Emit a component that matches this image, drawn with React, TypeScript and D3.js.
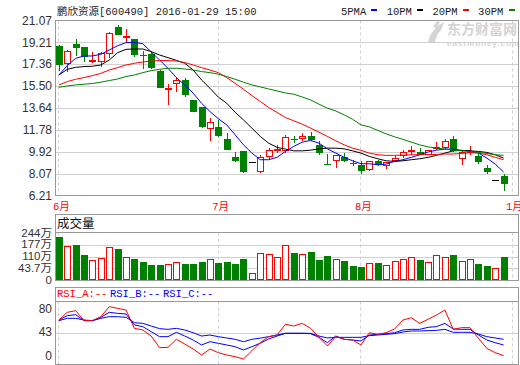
import React from 'react';
import * as d3 from 'd3';

// ---- chart data ----
const title = '鹏欣资源[600490] 2016-01-29 15:00';
const maNames = ['5PMA', '10PM', '20PM', '30PM'];
const monthLabels = ['6月', '7月', '8月', '1月'];
const monthIndex = [0, 19, 36, 54];
const priceTicks = [21.07, 19.21, 17.36, 15.5, 13.64, 11.78, 9.92, 8.07, 6.21];
const volTicks = ['244万', '177万', '110万', '43.7万', '0'];
const rsiTicks = ['80', '43', '0'];
const rsiNames = ['RSI_A:--', 'RSI_B:--', 'RSI_C:--'];

const open = [18.9, 17.35, 19.07, 18.79, 17.64, 17.58, 18.26, 20.48, 19.55, 19.47, 18.16, 18.22, 16.79, 15.3, 15.73, 16.0, 14.34, 13.72, 11.84, 12.09,
  11.02, 9.5, 9.98, 9.06, 8.21, 9.48, 10.03, 10.03, 11.07, 11.0, 11.25, 10.54, 8.93, 9.14, 9.48, 9.02, 8.85, 8.43, 9.19, 8.72,
  9.14, 9.56, 9.93, 9.93, 9.7, 10.33, 10.26, 11.05, 9.33, 9.84, 9.61, 8.57, 7.5, 7.87];
const high = [18.95, 18.55, 19.47, 18.82, 18.37, 18.43, 20.05, 20.67, 20.31, 19.5, 18.48, 18.43, 16.87, 15.67, 16.32, 16.17, 14.36, 13.74, 12.8, 12.65,
  11.53, 9.9, 10.0, 9.06, 9.7, 10.26, 10.54, 11.33, 11.3, 11.53, 11.61, 10.83, 9.76, 9.65, 9.81, 9.28, 9.14, 9.14, 9.28, 9.1,
  9.61, 10.12, 10.41, 10.26, 10.09, 10.77, 11.05, 11.25, 10.03, 10.41, 9.84, 8.85, 7.5, 8.09];
const low = [16.8, 16.68, 18.06, 17.58, 17.44, 17.16, 17.92, 19.8, 19.13, 17.95, 16.96, 16.96, 15.39, 13.87, 15.05, 14.57, 13.34, 12.0, 10.83, 11.22,
  10.1, 9.08, 8.15, 9.06, 8.19, 9.28, 9.84, 9.84, 10.68, 10.87, 10.89, 9.7, 8.89, 8.57, 9.08, 8.77, 8.09, 8.35, 8.72, 8.52,
  9.12, 9.42, 9.7, 9.65, 9.65, 10.12, 10.22, 9.96, 8.85, 9.65, 8.91, 8.09, 7.5, 6.66];
const close = [17.3, 18.51, 18.73, 17.95, 17.7, 18.28, 20.03, 19.83, 19.72, 18.14, 18.12, 17.02, 15.39, 15.36, 16.0, 14.76, 13.36, 12.01, 12.43, 11.25,
  10.12, 9.19, 8.24, 9.06, 9.48, 10.07, 10.2, 11.19, 11.03, 11.25, 10.91, 9.87, 8.91, 9.65, 9.19, 8.98, 8.35, 9.14, 8.85, 9.08,
  9.42, 9.9, 10.07, 9.7, 10.07, 10.37, 10.83, 9.98, 9.9, 10.03, 9.08, 8.24, 7.5, 7.22];

const ma5 = [16.45, 17.25, 17.86, 18.06, 18.06, 18.2, 18.56, 18.93, 19.19, 19.21, 19.1, 18.4, 17.72, 17.02, 16.23, 15.61, 14.91, 14.06, 13.36, 12.75,
  12.23, 11.39, 10.54, 9.84, 9.28, 9.28, 9.48, 9.98, 10.41, 10.77, 10.91, 10.68, 10.2, 9.84, 9.48, 9.19, 8.94, 8.94, 8.85, 8.91,
  9.14, 9.28, 9.48, 9.7, 9.93, 10.09, 10.18, 10.18, 10.07, 10.03, 9.84, 9.42, 8.91, 8.24];
const ma10 = [16.45, 16.93, 17.1, 17.16, 17.19, 17.3, 17.72, 18.34, 18.62, 18.65, 18.65, 18.43, 18.14, 17.92, 17.69, 17.44, 16.87, 16.03, 15.33, 14.58,
  14.06, 13.3, 12.65, 11.95, 11.25, 10.68, 10.32, 10.18, 10.03, 10.03, 10.09, 10.2, 10.26, 10.26, 10.2, 10.03, 9.84, 9.56, 9.36, 9.19,
  9.14, 9.19, 9.28, 9.36, 9.48, 9.65, 9.84, 10.03, 10.07, 10.03, 9.98, 9.9, 9.7, 9.42];
const ma20 = [15.61, 15.89, 16.09, 16.23, 16.4, 16.59, 16.87, 17.07, 17.3, 17.44, 17.55, 17.63, 17.67, 17.67, 17.63, 17.5, 17.3, 17.07, 16.87, 16.65,
  16.23, 15.75, 15.24, 14.71, 14.21, 13.7, 13.28, 12.85, 12.57, 12.29, 11.95, 11.61, 11.25, 10.88, 10.54, 10.26, 10.07, 9.84, 9.7, 9.65,
  9.65, 9.67, 9.7, 9.7, 9.7, 9.73, 9.76, 9.76, 9.81, 9.87, 9.84, 9.7, 9.48, 9.28];
const ma30 = [15.41, 15.52, 15.61, 15.67, 15.73, 15.84, 15.98, 16.11, 16.32, 16.45, 16.65, 16.82, 16.93, 17.02, 17.02, 16.96, 16.87, 16.74, 16.65, 16.52,
  16.32, 16.09, 15.84, 15.61, 15.44, 15.27, 15.1, 14.93, 14.82, 14.59, 14.34, 13.98, 13.64, 13.41, 13.07, 12.71, 12.23, 12.06, 11.76, 11.47,
  11.22, 11.0, 10.77, 10.54, 10.37, 10.26, 10.18, 10.09, 10.03, 9.98, 9.9, 9.81, 9.7, 9.65];

// volume, 万
const volume = [227, 178, 185, 133, 105, 117, 173, 164, 121, 112, 96, 81, 81, 84, 95, 86, 86, 96, 110, 91,
  96, 86, 112, 37, 142, 137, 121, 183, 143, 137, 148, 107, 128, 110, 102, 76, 70, 90, 91, 79,
  100, 110, 121, 107, 95, 131, 121, 133, 100, 110, 86, 76, 64, 122];

const rsiA = [69.8, 82, 84.6, 68.8, 68.8, 75.1, 91, 88.3, 85.7, 56.6, 54, 44.4, 25.9, 26.4, 39.2, 31.7, 23.8, 14.3, 23.8, 18,
  14.3, 11.6, 7.9, 21.2, 34, 43.4, 46, 63, 60.3, 64.5, 56.6, 42.3, 28.6, 43.4, 39.2, 38.1, 30.2, 49.7, 47.1, 49.7,
  55.5, 69.8, 73.5, 64.5, 70.9, 77.8, 85.7, 55, 57.7, 57.7, 40.7, 24.9, 18, 13.2];
const rsiB = [69.8, 76.7, 78.3, 68.8, 68.8, 74.1, 82, 80.4, 79.4, 61.9, 59.3, 51.3, 43.4, 43.4, 50.3, 44.4, 38.1, 30.2, 35.4, 32.8,
  30.2, 27.5, 22.2, 27.5, 33, 39.7, 44.4, 48.7, 48.7, 48.7, 48.1, 42.3, 33.8, 44.4, 39.2, 38.1, 36.5, 46, 47.1, 48.1,
  49.7, 54, 55, 55, 58.2, 59.3, 64.5, 55.5, 55, 55, 46, 38.1, 33.8, 30.2];
const rsiC = [68.8, 72.5, 72.5, 69.8, 68.8, 72.5, 75.1, 75.1, 74.1, 65.6, 64.5, 60.3, 56.1, 55, 56.6, 54, 49.7, 44.4, 46, 43.4,
  41.3, 39.2, 35.4, 39.2, 41, 43.4, 46, 48.7, 48.7, 48.7, 48.7, 44.4, 41.3, 42.3, 42.3, 42.3, 42.3, 45, 46, 47.1,
  48.1, 50.8, 52.4, 52.4, 52.9, 53.4, 55, 50.3, 50.3, 50.3, 47.6, 43.4, 41.3, 39.2];

// ---- styles ----
const UP = '#ff0000';
const DOWN = '#008000';
const maColors = ['#0000ff', '#000000', '#ff0000', '#008000'];
const rsiColors = ['#ff0000', '#0000ff', '#0000ff'];
const BORDER = '#999999';
const GRID = '#d0d0d0';
const mono = "'Liberation Mono', 'Noto Sans CJK SC', monospace";
const sans = "'Liberation Sans', Arial, 'Noto Sans CJK SC', sans-serif";

const L = 55.5;
const R = 518.5;

export default function App() {
  const x = d3.scaleLinear().domain([0, 54]).range([58.9, 512]);
  const yP = d3.scaleLinear().domain([6.21, 21.07]).range([196, 20.4]);
  const yV = d3.scaleLinear().domain([0, 244]).range([280.5, 233.7]);
  const yR = d3.scaleLinear().domain([0, 100]).range([364, 301]);
  const volPos = d3.scalePoint<string>().domain(volTicks).range([233.7, 280.5]);
  const rsiPos = d3.scalePoint<string>().domain(rsiTicks).range([309.5, 356.5]);

  const priceLine = d3.line<number>().x((d, i) => x(i)).y(d => yP(d));
  const rsiLine = d3.line<number>().x((d, i) => x(i)).y(d => yR(d));
  const px = (v: number) => Math.floor(v) + 0.5;

  const monthLines = (y1: number, y2: number) =>
    monthIndex.map((m, i) => (
      <line key={'m' + i} x1={px(x(m))} x2={px(x(m))} y1={y1} y2={y2}
        stroke={GRID} strokeDasharray="3,3" />
    ));

  return (
    <svg width={520} height={365} style={{ position: 'absolute', left: 0, top: 0, background: '#fff' }}>
      <rect x={0} y={0} width={520} height={365} fill="#fff" />

      {/* watermark */}
      <g fill="#d4d4d4">
        <path d="M428,42 C430,33 436,26 444,22 L441,30 C438,33 436,37 435,42 Z M433,27 L437,21 L440,22 L436,28 Z" />
        <text x={447} y={34} fontFamily="'Noto Sans CJK SC', sans-serif" fontWeight="bold" fontSize={14}>东方财富网</text>
        <text x={447} y={45.5} fontFamily={sans} fontWeight="bold" fontSize={8} letterSpacing={1}>eastmoney.com</text>
      </g>

      {/* header */}
      <text x={57} y={14.5} fontFamily={mono} fontSize={10.5} fill="#222">{title}</text>
      {maNames.map((n, i) => (
        <g key={n}>
          <text x={341 + i * 45.7} y={14.5} fontFamily={mono} fontSize={10.5} fill="#222">{n}</text>
          <rect x={371 + i * 46} y={9} width={6} height={2} fill={maColors[i]} />
        </g>
      ))}

      {/* price panel grid */}
      {priceTicks.map((t, i) => (
        <g key={'p' + i}>
          {i > 0 && i < priceTicks.length - 1 && (
            <line x1={L} x2={R} y1={px(yP(t))} y2={px(yP(t))} stroke={GRID} />
          )}
          <text x={52} y={yP(t)} dy="0.35em" textAnchor="end" fontFamily={sans} fontSize={12} fill="#333">
            {t.toFixed(2)}
          </text>
        </g>
      ))}
      {monthLines(20.5, 195.5)}
      {monthIndex.map((m, i) => (
        <text key={'ml' + i} x={x(m) - 6} y={210} fontFamily={mono} fontSize={10.5} fill="#ff0000">
          {monthLabels[i]}
        </text>
      ))}

      {/* candles */}
      {open.map((o, i) => {
        const c = close[i];
        const h = high[i];
        const l = low[i];
        const cx = Math.round(x(i));
        if (o === c && h === l) {
          return <line key={'c' + i} x1={cx - 3} x2={cx + 4} y1={px(yP(c))} y2={px(yP(c))} stroke="#000" />;
        }
        const up = c > o;
        const col = up ? UP : DOWN;
        const top = Math.round(yP(Math.max(o, c)));
        const bot = Math.round(yP(Math.min(o, c)));
        return (
          <g key={'c' + i}>
            <line x1={cx + 0.5} x2={cx + 0.5} y1={Math.round(yP(h))} y2={Math.round(yP(l))} stroke={col} />
            {up ? (
              <rect x={cx - 2.5} y={top + 0.5} width={6} height={Math.max(1, bot - top - 1)} fill="#fff" stroke={col} />
            ) : (
              <rect x={cx - 3} y={top} width={7} height={Math.max(1, bot - top)} fill={col} />
            )}
          </g>
        );
      })}

      {/* moving averages */}
      {[ma5, ma10, ma20, ma30].map((s, i) => (
        <path key={'ma' + i} d={priceLine(s) || ''} fill="none" stroke={maColors[i]} strokeWidth={1} />
      ))}

      <rect x={L} y={20.5} width={R - L} height={175} fill="none" stroke={BORDER} />

      {/* volume panel */}
      <text x={57} y={228} fontFamily="'Noto Sans CJK SC', sans-serif" fontSize={12.5} fill="#111">成交量</text>
      {volTicks.map((t, i) => (
        <g key={'v' + i}>
          {i > 0 && i < volTicks.length - 1 && (
            <line x1={L} x2={R} y1={px(volPos(t) || 0)} y2={px(volPos(t) || 0)} stroke={GRID} />
          )}
          <text x={52} y={(volPos(t) || 0) - 1} dy="0.35em" textAnchor="end" fontFamily={sans} fontSize={11.5} fill="#333">{t}</text>
        </g>
      ))}
      {monthLines(232.5, 280)}
      {volume.map((v, i) => {
        const cx = Math.round(x(i));
        const top = Math.round(yV(v));
        const up = close[i] >= open[i];
        return up ? (
          <rect key={'b' + i} x={cx - 2.5} y={top + 0.5} width={6} height={280 - top - 1} fill="#fff" stroke={UP} />
        ) : (
          <rect key={'b' + i} x={cx - 3} y={top} width={7} height={280 - top} fill={DOWN} />
        );
      })}
      <rect x={L} y={214.5} width={R - L} height={66} fill="none" stroke={BORDER} />
      <line x1={L} x2={R} y1={232.5} y2={232.5} stroke={BORDER} />

      {/* RSI panel */}
      {rsiNames.map((n, i) => (
        <text key={n} x={57 + i * 53} y={296.5} fontFamily={mono} fontSize={10.5} fill={rsiColors[i]}>{n}</text>
      ))}
      {rsiTicks.map((t, i) => (
        <g key={'r' + i}>
          {i === 1 && <line x1={L} x2={R} y1={px(rsiPos(t) || 0)} y2={px(rsiPos(t) || 0)} stroke={GRID} />}
          <text x={52} y={(rsiPos(t) || 0) - 1} dy="0.35em" textAnchor="end" fontFamily={sans} fontSize={12} fill="#333">{t}</text>
        </g>
      ))}
      {monthLines(301.5, 364)}
      {[rsiC, rsiB, rsiA].map((s, i) => (
        <path key={'rsi' + i} d={rsiLine(s) || ''} fill="none" stroke={rsiColors[2 - i]} strokeWidth={1} />
      ))}
      <rect x={L} y={287.5} width={R - L} height={77} fill="none" stroke={BORDER} />
      <line x1={L} x2={R} y1={301.5} y2={301.5} stroke={BORDER} />
    </svg>
  );
}
